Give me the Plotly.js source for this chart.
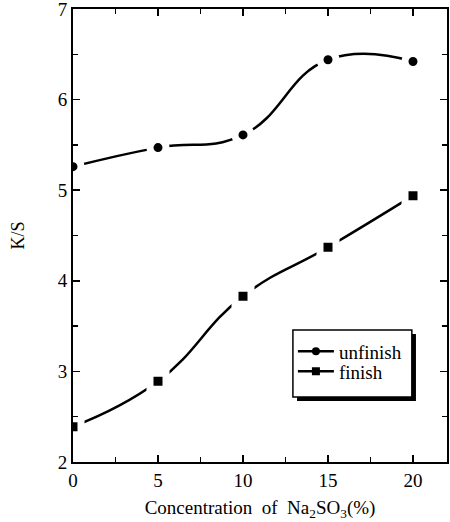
<!DOCTYPE html>
<html>
<head>
<meta charset="utf-8">
<script src="https://cdn.plot.ly/plotly-3.0.1.min.js"></script>
<style>
html,body{margin:0;padding:0;background:#fff;}
#chart{width:450px;height:522px;}
</style>
</head>
<body>
<div id="chart"></div>
<script>
var concentration = [0, 5, 10, 15, 20];
var unfinishKS = [5.26, 5.47, 5.61, 6.44, 6.42];
var finishKS = [2.39, 2.89, 3.83, 4.37, 4.94];
var seriesNames = ['unfinish', 'finish'];
var xTickVals = [0, 5, 10, 15, 20];
var yTickVals = [2, 3, 4, 5, 6, 7];

var FONT = '"Liberation Serif", "Times New Roman", serif';

function lineTrace(y, name, symbol, leg) {
  return {
    x: concentration, y: y, name: name, mode: 'lines+markers', legend: leg,
    line: {color: '#000', width: 2.5, shape: 'spline', smoothing: 1.3},
    marker: {color: '#000', size: 8, symbol: symbol},
    showlegend: true, hoverinfo: 'skip'
  };
}
function markTrace(y, symbol, size) {
  return {
    x: concentration, y: y, mode: 'markers', showlegend: false, hoverinfo: 'skip',
    marker: {color: '#000', size: size, symbol: symbol, line: {color: '#fff', width: 7}}
  };
}

var data = [
  lineTrace(unfinishKS, seriesNames[0], 'circle', 'legend'),
  lineTrace(finishKS, seriesNames[1], 'square', 'legend2'),
  markTrace(unfinishKS, 'circle', 16),
  markTrace(finishKS, 'square', 16)
];

var axisCommon = {
  showgrid: false, zeroline: false, showline: true, linecolor: '#000', linewidth: 2,
  mirror: 'ticks', ticks: 'inside', ticklen: 7, tickwidth: 1.5, tickcolor: '#000',
  ticklabeloverflow: 'allow',
  tickfont: {family: FONT, size: 19, color: '#000'}
};

function legendBox(y) {
  return {
    x: 0.588, y: y, xanchor: 'left', yanchor: 'top',
    bgcolor: 'rgba(0,0,0,0)', borderwidth: 0,
    font: {family: FONT, size: 19, color: '#000'},
    itemwidth: 36
  };
}

var layout = {
  width: 450, height: 522,
  margin: {l: 73, r: 3, t: 9, b: 60},
  paper_bgcolor: '#fff', plot_bgcolor: '#fff',
  font: {family: FONT, color: '#000'},
  xaxis: Object.assign({}, axisCommon, {
    range: [0, 22], tickvals: xTickVals,
    minor: {ticks: 'inside', ticklen: 5, tickwidth: 1.5, tickcolor: '#000', tickvals: [2.5, 7.5, 12.5, 17.5]},
    title: {text: 'Concentration&nbsp;&nbsp;of&nbsp;&nbsp;Na<sub>2</sub>SO<sub>3</sub>(%)', font: {family: FONT, size: 19, color: '#000'}, standoff: 11}
  }),
  yaxis: Object.assign({}, axisCommon, {
    range: [2, 7], tickvals: yTickVals,
    minor: {ticks: 'inside', ticklen: 5, tickwidth: 1.5, tickcolor: '#000', tickvals: [2.5, 3.5, 4.5, 5.5, 6.5]},
    title: {text: 'K/S', font: {family: FONT, size: 18, color: '#000'}, standoff: 28}
  }),
  legend: legendBox(0.286),
  legend2: legendBox(0.242),
  shapes: [
    {type: 'rect', xref: 'paper', yref: 'paper', layer: 'above',
     x0: 0.599, x1: 0.917, y0: 0.1347, y1: 0.2826,
     fillcolor: '#000', line: {width: 0}},
    {type: 'rect', xref: 'paper', yref: 'paper', layer: 'above',
     x0: 0.588, x1: 0.906, y0: 0.1435, y1: 0.2914,
     fillcolor: '#fff', line: {color: '#000', width: 1.5}}
  ]
};

Plotly.newPlot('chart', data, layout, {displayModeBar: false, staticPlot: true});
</script>
</body>
</html>
